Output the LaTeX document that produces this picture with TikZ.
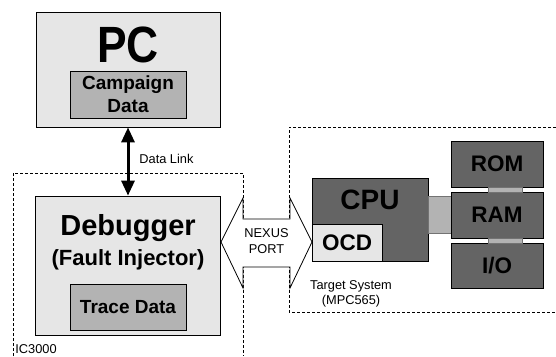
\documentclass[tikz,border=0pt]{standalone}
\usepackage{fontspec}
\setmainfont{Liberation Sans}
\usetikzlibrary{arrows.meta}
\definecolor{lightfill}{HTML}{E6E6E6}
\definecolor{midfill}{HTML}{B3B3B3}
\definecolor{darkfill}{HTML}{646464}
\newcommand{\fs}[2]{\fontsize{#1}{#2}\selectfont}

\begin{document}
\begin{tikzpicture}[x=1pt, y=-1pt, line width=0.8pt,
    >={Triangle[length=15pt,width=13pt]},
    lightbox/.style={draw, fill=lightfill},
    midbox/.style={draw, fill=midfill, align=center, font=\bfseries\fs{19}{23}},
    darkbox/.style={draw, fill=darkfill, font=\bfseries\fs{22.5}{23}},
    busbar/.style={draw=black!55, fill=midfill, line width=0.6pt},
    sysframe/.style={dash pattern=on 3pt off 2pt, line width=0.7pt},
    smalltext/.style={font=\fs{12.8}{15.5}, align=center, inner sep=0pt}]

      \useasboundingbox (0,0) rectangle (556,356);

      % dashed frames
      \draw [sysframe] (13,356) -- (13,173) -- (243,173) -- (243,356);
      \draw [sysframe] (556,127) -- (289,127) -- (289,312) -- (556,312);
      \node at (15,349) [smalltext, anchor=west, name=ic] {IC3000};
      \node at (351,294) [smalltext, name=target] {Target System\\(MPC565)};

      % nexus port
      \draw [fill=white] (221,242) -- (243,198) -- (243,219) -- (290,219)
        -- (290,198) -- (312,242) -- (290,288) -- (290,267) -- (243,267)
        -- (243,288) -- cycle;
      \node at (266.5,241) [smalltext, name=port] {NEXUS\\PORT};

      % PC
      \node at (128,69.5) [lightbox, minimum width=184pt, minimum height=115pt, name=pc] {};
      \node at (128,62) [anchor=base, font=\bfseries\fs{51}{51}, name=pctitle]
        {\scalebox{0.87}[1]{PC}};
      \node at (128,94.5) [midbox, minimum width=116pt, minimum height=47pt, name=campaign]
        {Campaign\\Data};

      % debugger
      \node at (128,265.5) [lightbox, minimum width=185pt, minimum height=139pt, name=dbg] {};
      \node at (128,235) [anchor=base, font=\bfseries\fs{29}{29}, name=dbgtitle] {Debugger};
      \node at (128,265) [anchor=base, font=\bfseries\fs{22}{22}, name=dbgsub] {(Fault Injector)};
      \node at (128,307) [midbox, minimum width=116pt, minimum height=46pt, name=trace]
        {Trace Data};

      \draw [<->, line width=3pt] (pc) -- (dbg);
      \node at (139,159) [smalltext, anchor=west, name=link] {Data Link};

      % target
      \node at (370,219.5) [darkbox, minimum width=116pt, minimum height=83pt, name=cpu] {};
      \node at (370,200) [font=\bfseries\fs{28}{28}, name=cputitle] {CPU};
      \node at (347,242.5) [darkbox, fill=lightfill, minimum width=70pt, minimum height=37pt, name=ocd] {OCD};
      \node at (439.5,214.5) [busbar, minimum width=23pt, minimum height=37pt, name=cpubus] {};

      \node at (497,164) [darkbox, minimum width=92pt, minimum height=46pt, name=rom] {ROM};
      \node at (497,215) [darkbox, minimum width=92pt, minimum height=46pt, name=ram] {RAM};
      \node at (497,265.5) [darkbox, minimum width=92pt, minimum height=45pt, name=io] {I/O};
      \node at (505,189.5) [busbar, minimum width=34pt, minimum height=5pt, inner sep=0pt, name=rombus] {};
      \node at (505,240.5) [busbar, minimum width=34pt, minimum height=5pt, inner sep=0pt, name=iobus] {};

    \end{tikzpicture}
\end{document}
